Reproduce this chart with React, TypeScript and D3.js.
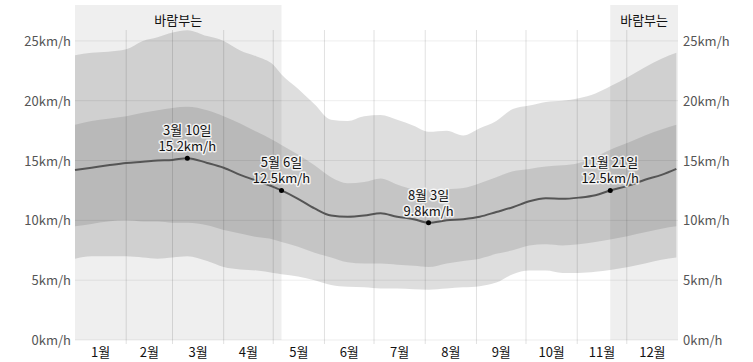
import React from "react";
import * as d3 from "d3";

const WIDTH = 753;
const HEIGHT = 362;
const margin = { top: 5, right: 75, bottom: 22, left: 75 };

// day of year (0 = 1월 1일)
const days = [
  0, 10, 20, 31, 41, 50, 59, 68, 80, 90, 100, 110, 120, 125, 135, 145, 155,
  165, 175, 185, 195, 205, 214, 225, 235, 245, 255, 265, 275, 285, 295, 305,
  315, 324, 335, 345, 355, 364,
];
const p90 = [
  23.8, 24.0, 24.1, 24.3, 25.0, 25.3, 25.7, 25.9, 25.4, 25.0, 24.2, 23.7,
  23.0, 22.2, 21.0, 19.7, 18.4, 18.3, 18.7, 18.8, 18.4, 17.9, 17.4, 17.5,
  17.1, 17.7, 18.3, 19.3, 19.6, 19.9, 20.0, 20.2, 20.6, 21.2, 22.0, 22.8,
  23.5, 24.0,
];
const p75 = [
  18.0, 18.3, 18.5, 18.7, 19.0, 19.2, 19.4, 19.5, 19.2, 18.7, 18.1, 17.4,
  16.7, 16.3, 15.5, 14.6, 13.6, 13.1, 13.2, 13.5, 13.0, 12.6, 12.5, 12.6,
  12.7, 13.1, 13.6, 14.1, 14.3, 14.5, 14.6, 14.8, 15.3, 15.9, 16.5, 17.1,
  17.6, 18.0,
];
const median = [
  14.2, 14.4, 14.6, 14.8, 14.9, 15.0, 15.05, 15.2, 14.8, 14.4, 13.8, 13.3,
  12.8, 12.5, 11.8, 11.0, 10.4, 10.3, 10.4, 10.6, 10.3, 10.1, 9.8, 10.0,
  10.1, 10.3, 10.7, 11.1, 11.6, 11.85, 11.8, 11.9, 12.1, 12.5, 12.9, 13.4,
  13.8, 14.3,
];
const p25 = [
  9.5, 9.7, 9.9, 10.0, 9.9, 9.9, 9.8, 9.8, 9.6, 9.2, 8.9, 8.6, 8.4, 8.2, 7.8,
  7.3, 6.9, 6.5, 6.4, 6.4, 6.3, 6.2, 6.1, 6.4, 6.6, 6.8, 7.2, 7.5, 7.9, 8.0,
  7.9, 8.0, 8.2, 8.4, 8.7, 9.0, 9.3, 9.5,
];
const p10 = [
  6.8, 7.0, 7.0, 7.0, 6.9, 6.8, 6.9, 7.0, 6.6, 6.1, 5.9, 5.8, 5.6, 5.5, 5.3,
  5.0, 4.6, 4.45, 4.4, 4.3, 4.3, 4.25, 4.2, 4.3, 4.4, 4.5, 4.8, 5.5, 5.8,
  5.8, 5.6, 5.6, 5.7, 5.85, 6.1, 6.4, 6.7, 6.9,
];

const monthStarts = [0, 31, 59, 90, 120, 151, 181, 212, 243, 273, 304, 334, 365];
const monthLabels = [
  "1월", "2월", "3월", "4월", "5월", "6월",
  "7월", "8월", "9월", "10월", "11월", "12월",
];
const yTicks = [0, 5, 10, 15, 20, 25];

// windy seasons: [start day, end day]
const windy = [
  [0, 125],
  [324, 365],
];
const windyLabel = "바람부는";

const notes = [
  { day: 68, value: 15.2, date: "3월 10일" },
  { day: 125, value: 12.5, date: "5월 6일" },
  { day: 214, value: 9.8, date: "8월 3일" },
  { day: 324, value: 12.5, date: "11월 21일" },
];

const FONT = "'Noto Sans CJK KR', 'Noto Sans', sans-serif";

export default function App() {
  const x = d3
    .scaleLinear()
    .domain([0, 365])
    .range([margin.left, WIDTH - margin.right + 0]);
  const y = d3
    .scaleLinear()
    .domain([0, 28])
    .range([HEIGHT - margin.bottom, margin.top]);

  const rows = days.map((d, i) => ({
    day: d,
    p10: p10[i],
    p25: p25[i],
    med: median[i],
    p75: p75[i],
    p90: p90[i],
  }));

  const outer = d3
    .area<any>()
    .x((d) => x(d.day))
    .y0((d) => y(d.p10))
    .y1((d) => y(d.p90))
    .curve(d3.curveMonotoneX);
  const inner = d3
    .area<any>()
    .x((d) => x(d.day))
    .y0((d) => y(d.p25))
    .y1((d) => y(d.p75))
    .curve(d3.curveMonotoneX);
  const line = d3
    .line<any>()
    .x((d) => x(d.day))
    .y((d) => y(d.med))
    .curve(d3.curveMonotoneX);

  const x0 = x(0);
  const x1 = x(365);
  const yBottom = y(0);

  return (
    <svg
      width={WIDTH}
      height={HEIGHT}
      style={{ position: "absolute", left: 0, top: 0, fontFamily: FONT }}
    >
      {/* windy season backgrounds */}
      {windy.map(([a, b], i) => (
        <rect
          key={"w" + i}
          x={x(a)}
          y={margin.top}
          width={x(b) - x(a)}
          height={yBottom - margin.top}
          fill="#efefef"
        />
      ))}

      {/* horizontal grid */}
      {yTicks.map((t) => (
        <line
          key={"h" + t}
          x1={x0}
          x2={x1}
          y1={y(t)}
          y2={y(t)}
          stroke="rgba(0,0,0,0.07)"
          strokeWidth={1}
        />
      ))}

      <path d={outer(rows) || ""} fill="rgba(0,0,0,0.13)" />
      <path d={inner(rows) || ""} fill="rgba(0,0,0,0.11)" />

      {/* vertical grid at month boundaries */}
      {monthStarts.slice(1, 12).map((m) => (
        <line
          key={"v" + m}
          x1={x(m)}
          x2={x(m)}
          y1={30}
          y2={yBottom + 4}
          stroke="rgba(0,0,0,0.12)"
          strokeWidth={1}
        />
      ))}

      <path d={line(rows) || ""} fill="none" stroke="#555" strokeWidth={2} />

      {windy.map(([a, b], i) => (
        <text
          key={"wl" + i}
          x={(x(a) + x(b)) / 2}
          y={25}
          textAnchor="middle"
          fontSize={13}
          fill="#111"
        >
          {windyLabel}
        </text>
      ))}

      {/* y axis labels */}
      {yTicks.map((t) => (
        <g key={"yl" + t} fontSize={13} fill="#555">
          <text x={x0 - 4} y={y(t) + 5} textAnchor="end">
            {t}km/h
          </text>
          <text x={x1 + 5} y={y(t) + 5} textAnchor="start">
            {t}km/h
          </text>
        </g>
      ))}

      {/* month labels */}
      {monthLabels.map((m, i) => (
        <text
          key={"m" + i}
          x={x((monthStarts[i] + monthStarts[i + 1]) / 2)}
          y={yBottom + 17}
          textAnchor="middle"
          fontSize={13}
          fill="#111"
        >
          {m}
        </text>
      ))}

      {/* annotations */}
      {notes.map((n, i) => {
        const cx = x(n.day);
        const cy = y(n.value);
        return (
          <g key={"n" + i}>
            <circle cx={cx} cy={cy} r={2.5} fill="#000" />
            <g
              fontSize={13}
              textAnchor="middle"
              fill="#111"
              stroke="rgba(255,255,255,0.8)"
              strokeWidth={3}
              paintOrder="stroke"
              strokeLinejoin="round"
            >
              <text x={cx} y={cy - 23}>
                {n.date}
              </text>
              <text x={cx} y={cy - 7}>
                {n.value.toFixed(1)}km/h
              </text>
            </g>
          </g>
        );
      })}
    </svg>
  );
}
